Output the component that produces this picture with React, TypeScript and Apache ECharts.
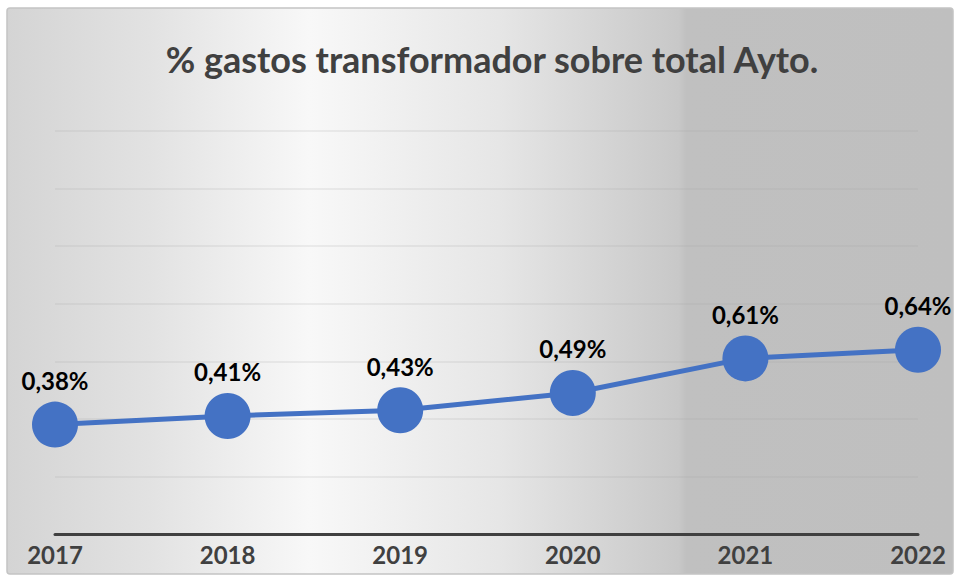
import React, { useEffect, useRef } from "react";
import * as echarts from "echarts";

const years = ["2017", "2018", "2019", "2020", "2021", "2022"];
const shareValues = [0.38, 0.41, 0.43, 0.49, 0.61, 0.64];
const chartTitle = "% gastos transformador sobre total Ayto.";

export default function App() {
  const ref = useRef<HTMLDivElement>(null);
  useEffect(() => {
    document.body.style.margin = "0";
    const chart = echarts.init(ref.current!, null, { renderer: "svg" });
    const font = "Lato, 'Open Sans', sans-serif";
    chart.setOption({
      animation: false,
      backgroundColor: "#ffffff",
      graphic: [
        {
          type: "rect",
          z: -10,
          silent: true,
          shape: { x: 7, y: 8, width: 946, height: 566, r: 3 },
          style: {
            fill: new echarts.graphic.LinearGradient(0, 0, 1, 0, [
              { offset: 0, color: "#d4d4d4" },
              { offset: 0.15, color: "#e2e2e2" },
              { offset: 0.32, color: "#f8f8f8" },
              { offset: 0.52, color: "#e6e6e6" },
              { offset: 0.71, color: "#c8c8c8" },
              { offset: 0.718, color: "#c0c0c0" },
              { offset: 1, color: "#bfbfbf" },
            ]),
            stroke: "#c4c4c4",
            lineWidth: 1.5,
          },
        },
      ],
      title: {
        text: chartTitle,
        left: 487,
        textAlign: "center",
        top: 36,
        textStyle: {
          fontFamily: font,
          fontWeight: "bold",
          fontSize: 36,
          color: "#404040",
        },
      },
      grid: { left: 55, right: 39, top: 131, bottom: 44, containLabel: false },
      xAxis: {
        type: "category",
        data: years,
        boundaryGap: false,
        axisLine: { show: true, lineStyle: { color: "#404040", width: 3 } },
        axisTick: { show: false },
        axisLabel: {
          margin: 8,
          fontFamily: font,
          fontWeight: "bold",
          fontSize: 24,
          color: "#404040",
        },
        splitLine: { show: false },
      },
      yAxis: {
        type: "value",
        min: 0,
        max: 1.4,
        interval: 0.2,
        axisLabel: { show: false },
        axisLine: { show: false },
        axisTick: { show: false },
        splitLine: { show: true, lineStyle: { color: "rgba(170,170,170,0.22)", width: 1.5 } },
      },
      series: [
        {
          type: "line",
          data: shareValues,
          symbol: "circle",
          symbolSize: 46,
          itemStyle: { color: "#4472C4" },
          lineStyle: { color: "#4472C4", width: 5 },
          label: {
            show: true,
            position: "top",
            distance: 9,
            fontFamily: font,
            fontWeight: "bold",
            fontSize: 24,
            color: "#000000",
            formatter: (p: any) => p.value.toFixed(2).replace(".", ",") + "%",
          },
        },
      ],
    });
    return () => chart.dispose();
  }, []);
  return <div ref={ref} style={{ width: 957, height: 578 }} />;
}
